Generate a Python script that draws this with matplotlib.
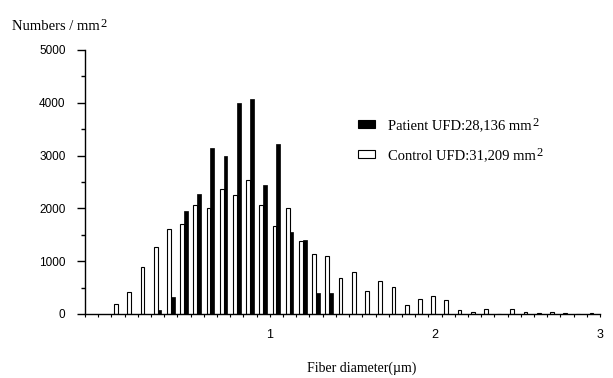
import numpy as np
import matplotlib
matplotlib.use("Agg")
import matplotlib.pyplot as plt
from matplotlib.patches import Patch
from matplotlib.ticker import FixedLocator, MultipleLocator

# --- DATA (bins of 0.08 um) ---
diameters = np.arange(1, 38) * 0.08
control = [190, 420, 890, 1268, 1610, 1710, 2055, 2000, 2375, 2262,
           2533, 2060, 1660, 2005, 1376, 1129, 1097, 687, 794, 427,
           617, 503, 161, 288, 338, 262, 80, 30, 99, 0,
           99, 45, 22, 45, 28, 0, 28]
patient = [0, 0, 0, 80, 320, 1950, 2268, 3147, 2990, 4000,
           4064, 2438, 3216, 1553, 1395, 395, 395, 0, 0, 0,
           0, 0, 0, 0, 0, 0, 0, 0, 0, 0,
           0, 0, 0, 0, 0, 0, 0]
bin_edges = np.arange(40) * 0.08 - 0.12
x_labels = [1, 2, 3]
y_major = [0, 1000, 2000, 3000, 4000, 5000]

SERIF = ["Liberation Serif", "DejaVu Serif"]
SANS = ["Liberation Sans", "DejaVu Sans"]
W, H = 613, 378

fig = plt.figure(figsize=(W / 100, H / 100), dpi=100)
ax = fig.add_axes([85 / W, (H - 314) / H, 515 / W, 264 / H])

bw = 0.023
ax.bar(diameters - bw / 2, control, width=bw, color="white",
       edgecolor="black", linewidth=0.8)
ax.bar(diameters + bw / 2, patient, width=bw, color="black",
       edgecolor="black", linewidth=0.5)

ax.set_xlim(-0.12, 3.0)
ax.set_ylim(0, 5000)

# spines / ticks
for s in ["top", "right"]:
    ax.spines[s].set_visible(False)
for s in ["left", "bottom"]:
    ax.spines[s].set_linewidth(1.0)

ax.yaxis.set_major_locator(FixedLocator(y_major))
ax.yaxis.set_minor_locator(MultipleLocator(500))
ax.tick_params(axis="y", which="major", direction="out", length=6, width=1, pad=8)
ax.tick_params(axis="y", which="minor", direction="out", length=3, width=1)

ax.xaxis.remove_overlapping_locs = False
ax.xaxis.set_major_locator(FixedLocator(x_labels))
ax.xaxis.set_minor_locator(FixedLocator(bin_edges))
ax.tick_params(axis="x", which="major", length=0, pad=11)
ax.tick_params(axis="x", which="minor", direction="out", length=2.5, width=0.8)

ax.set_yticklabels([str(v) for v in y_major], family=SANS, fontsize=8.5)
ax.set_xticklabels([str(v) for v in x_labels], family=SANS, fontsize=9)

# legend
handles = [Patch(facecolor="black", edgecolor="black", linewidth=0.8),
           Patch(facecolor="white", edgecolor="black", linewidth=0.8)]
leg = fig.legend(handles, ["Patient UFD:28,136 mm", "Control UFD:31,209 mm"],
                 loc="upper left", bbox_to_anchor=(358 / W, 1 - 119 / H),
                 frameon=False, borderpad=0, borderaxespad=0,
                 handlelength=1.15, handleheight=0.5, handletextpad=0.9,
                 labelspacing=1.2, prop={"family": SERIF, "size": 10.5})

# axis titles
ylab = fig.text(12 / W, 1 - 30 / H, "Numbers / mm", family=SERIF, fontsize=10.5,
                ha="left", va="baseline")
fig.text(362 / W, 1 - 368 / H, "Fiber diameter(\u00b5m)", family=SERIF, fontsize=10,
         ha="center", va="center")

# big superscript "2" after each "mm" (needs text extents, so draw once first)
fig.canvas.draw()
inv = fig.transFigure.inverted()
for t in list(leg.get_texts()) + [ylab]:
    bb = t.get_window_extent()
    x0, y0 = inv.transform((bb.x1 + 1, bb.y1 + 2))
    fig.text(x0, y0, "2", family=SERIF, fontsize=9, ha="left", va="top")

fig.savefig("out.png", dpi=100)
